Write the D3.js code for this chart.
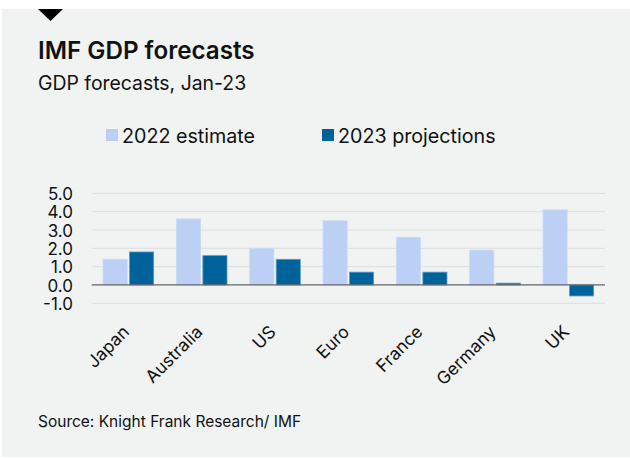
<!DOCTYPE html>
<html><head><meta charset="utf-8">
<script src="https://cdn.jsdelivr.net/npm/d3@7/dist/d3.min.js"></script>
<style>body{margin:0;background:#fff;}svg{display:block;}</style>
</head><body>
<svg id="c" width="630" height="458"></svg>
<script>
const categories = ["Japan","Australia","US","Euro","France","Germany","UK"];
const series = ["2022 estimate","2023 projections"];
const est2022 = [1.4,3.6,2.0,3.5,2.6,1.9,4.1];
const proj2023 = [1.8,1.6,1.4,0.7,0.7,0.1,-0.6];
const yTicks = [-1,0,1,2,3,4,5];
const colors = ["#bcd0f5","#00629b"];

const font = "Inter, 'Liberation Sans', Arial, sans-serif";
const svg = d3.select("#c");
svg.append("rect").attr("x",2).attr("y",9).attr("width",628).attr("height",448).attr("fill","#f0f3f2");
svg.append("path").attr("d","M38,9 L63,9 L50.5,21 Z").attr("fill","#000");
svg.append("text").attr("x",38).attr("y",59).attr("font-family",font).attr("font-weight",600).attr("font-size",24.2).attr("fill","#111").text("IMF GDP forecasts");
svg.append("text").attr("x",38).attr("y",90).attr("font-family",font).attr("font-size",19.4).attr("fill","#111").text("GDP forecasts, Jan-23");

// legend
const legX = [106,322];
series.forEach((s,i)=>{
  svg.append("rect").attr("x",legX[i]).attr("y",129).attr("width",12).attr("height",12).attr("fill",colors[i]);
  svg.append("text").attr("x",legX[i]+16).attr("y",142.5).attr("font-family",font).attr("font-size",19.7).attr("fill","#111").text(s);
});

const x0 = d3.scaleBand().domain(categories).range([91.7,605]).paddingInner(0.31).paddingOuter(0.155);
const x1 = d3.scaleBand().domain(series).range([0,x0.bandwidth()]).paddingInner(0.09);
const y = d3.scaleLinear().domain([-1,5]).range([303.3,193.3]);

const g = svg.append("g");
g.selectAll(".grid").data(yTicks.filter(t=>t!==0)).join("line")
  .attr("x1",91.7).attr("x2",605).attr("y1",d=>y(d)).attr("y2",d=>y(d))
  .attr("stroke","#dcdedd").attr("stroke-width",1);

const yAxis = d3.axisLeft(y).tickValues(yTicks).tickFormat(d=>d.toFixed(1)).tickSize(0).tickPadding(0);
const ya = svg.append("g").attr("transform","translate(73,0)").call(yAxis);
ya.select(".domain").remove();
ya.selectAll("text").attr("font-family",font).attr("font-size",17).attr("fill","#111").attr("dy","0.36em");

const data = categories.map((c,i)=>({c, vals:[est2022[i],proj2023[i]]}));
const grp = g.selectAll(".grp").data(data).join("g").attr("transform",d=>`translate(${x0(d.c)},0)`);
grp.selectAll("rect").data(d=>d.vals.map((v,i)=>({v,s:series[i],i}))).join("rect")
  .attr("x",d=>x1(d.s)).attr("width",x1.bandwidth())
  .attr("y",d=>y(Math.max(0,d.v))).attr("height",d=>Math.abs(y(d.v)-y(0)))
  .attr("fill",d=>colors[d.i]).attr("stroke",d=>d.i===0?"#c8d9f6":"#5a9cc4").attr("stroke-width",0.8);

g.append("line").attr("x1",91.7).attr("x2",605).attr("y1",y(0)).attr("y2",y(0)).attr("stroke","#666").attr("stroke-width",1.2);

const xAxis = d3.axisBottom(x0).tickSize(0).tickPadding(0);
const xa = svg.append("g").attr("transform","translate(0,310)").call(xAxis);
xa.select(".domain").remove();
xa.selectAll("text").attr("font-family",font).attr("font-size",17.5).attr("fill","#111")
  .attr("text-anchor","end").attr("dy","0").attr("y",0)
  .attr("transform","translate(2,23) rotate(-45)");

svg.append("text").attr("x",38).attr("y",427).attr("font-family",font).attr("font-size",15.5).attr("fill","#111").text("Source: Knight Frank Research/ IMF");
</script>
</body></html>
